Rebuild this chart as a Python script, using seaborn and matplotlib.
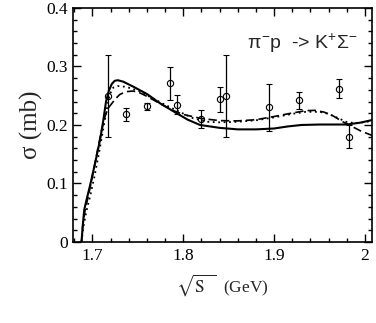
import matplotlib as mpl
mpl.use('Agg')
import matplotlib.pyplot as plt
from matplotlib.ticker import MultipleLocator, FuncFormatter
import numpy as np
import pandas as pd
import seaborn as sns

# measured cross sections (sqrt(s) in GeV, sigma in mb)
data_x = [1.717, 1.737, 1.7598, 1.7858, 1.7935, 1.8193,
          1.8405, 1.847, 1.8944, 1.9274, 1.971, 1.9827]
data_y = [0.250, 0.218, 0.232, 0.271, 0.235, 0.210,
          0.244, 0.250, 0.230, 0.242, 0.262, 0.180]
data_err = [0.070, 0.011, 0.006, 0.028, 0.017, 0.015,
            0.021, 0.070, 0.040, 0.014, 0.016, 0.020]

# model curves
solid_x = [1.688, 1.6895, 1.691, 1.694, 1.6975, 1.703, 1.7085, 1.712,
           1.715, 1.718, 1.7213, 1.7245, 1.728, 1.734, 1.745, 1.76,
           1.7745, 1.7928, 1.805, 1.8185, 1.8405, 1.86, 1.88, 1.90,
           1.915, 1.93, 1.95, 1.965, 1.98, 1.995, 2.008]
solid_y = [0.0, 0.03, 0.055, 0.075, 0.097, 0.135, 0.175, 0.208,
           0.240, 0.258, 0.270, 0.2755, 0.2765, 0.274, 0.2655, 0.253,
           0.237, 0.220, 0.209, 0.200, 0.195, 0.1925, 0.1925, 0.194,
           0.1975, 0.200, 0.2008, 0.2008, 0.2008, 0.204, 0.2085]

dash_x = [1.688, 1.6895, 1.692, 1.696, 1.701, 1.706, 1.710, 1.714,
          1.717, 1.720, 1.725, 1.730, 1.737, 1.745, 1.752, 1.76,
          1.775, 1.79, 1.80, 1.82, 1.84, 1.86, 1.88, 1.90, 1.92,
          1.935, 1.945, 1.955, 1.965, 1.975, 1.985, 1.995, 2.008]
dash_y = [0.0, 0.03, 0.055, 0.082, 0.12, 0.16, 0.19, 0.215,
          0.228, 0.234, 0.244, 0.252, 0.257, 0.258, 0.255, 0.249,
          0.236, 0.224, 0.218, 0.211, 0.2075, 0.207, 0.209, 0.2145, 0.2205,
          0.2245, 0.225, 0.222, 0.2155, 0.206, 0.198, 0.190, 0.182]

dot_x = [1.688, 1.690, 1.693, 1.697, 1.702, 1.707, 1.711, 1.715,
         1.719, 1.723, 1.728, 1.735, 1.742, 1.752, 1.767, 1.782,
         1.7965, 1.811, 1.826, 1.84, 1.86, 1.88, 1.90, 1.92, 1.935,
         1.95, 1.96, 1.97, 1.98, 1.99, 2.0, 2.008]
dot_y = [0.0, 0.025, 0.05, 0.075, 0.11, 0.15, 0.185, 0.22,
         0.252, 0.264, 0.2665, 0.2655, 0.263, 0.2575, 0.245, 0.233,
         0.222, 0.2115, 0.2055, 0.2045, 0.2055, 0.208, 0.213, 0.219, 0.2225,
         0.2225, 0.219, 0.212, 0.205, 0.203, 0.205, 0.207]

x_ticks = [1.7, 1.8, 1.9, 2.0]
y_ticks = [0.0, 0.1, 0.2, 0.3, 0.4]

sns.set_style('ticks')
plt.rcParams['font.family'] = ['Liberation Serif', 'DejaVu Serif']
plt.rcParams['mathtext.fontset'] = 'custom'
plt.rcParams['mathtext.rm'] = 'Liberation Sans'
plt.rcParams['mathtext.it'] = 'Liberation Sans'
plt.rcParams['mathtext.sf'] = 'Liberation Sans'

fig = plt.figure(figsize=(3.76, 3.23), dpi=100)
ax = fig.add_axes([0.195, 0.2508, 0.795, 0.7245])

sns.lineplot(x=solid_x, y=solid_y, ax=ax, color='k', lw=1.5,
             sort=False, estimator=None)
sns.lineplot(x=dash_x, y=dash_y, ax=ax, color='k', lw=1.2,
             linestyle=(0, (5, 2.5)), sort=False, estimator=None)
sns.lineplot(x=dot_x, y=dot_y, ax=ax, color='k', lw=1.3,
             linestyle=(0, (1, 2)), sort=False, estimator=None)

ax.errorbar(data_x, data_y, yerr=data_err, fmt='o', ms=4.5, mfc='none',
            mec='k', mew=0.8, ecolor='k', elinewidth=0.9, capsize=2.5,
            capthick=0.9)

ax.set_xlim(1.679, 2.008)
ax.set_ylim(0.0, 0.4)
ax.set_xticks(x_ticks)
ax.set_yticks(y_ticks)
ax.xaxis.set_minor_locator(MultipleLocator(0.02))
ax.yaxis.set_minor_locator(MultipleLocator(0.02))
fmt = FuncFormatter(lambda v, p: '%g' % round(v, 3))
ax.xaxis.set_major_formatter(fmt)
ax.yaxis.set_major_formatter(fmt)
ax.tick_params(which='both', direction='in', top=True, right=True,
               width=1.0, color='k', labelsize=12.5, labelcolor='k')
ax.tick_params(which='major', length=5.5, pad=4)
ax.tick_params(which='minor', length=3)
for sp in ax.spines.values():
    sp.set_linewidth(1.2)
    sp.set_color('k')

ax.set_xlabel(r'$\sqrt{\mathrm{S}\ \ }$  (GeV)', fontsize=12.5,
              math_fontfamily='stix', labelpad=6)
ax.set_ylabel('σ (mb)', fontsize=18, labelpad=2)

ax.text(0.58, 0.825, r'$\pi^{-}$p  -> K$^{+}\Sigma^{-}$', transform=ax.transAxes,
        fontsize=14, family='Liberation Sans', va='baseline', ha='left',
        math_fontfamily='custom')

fig.savefig('out.png', dpi=100)
